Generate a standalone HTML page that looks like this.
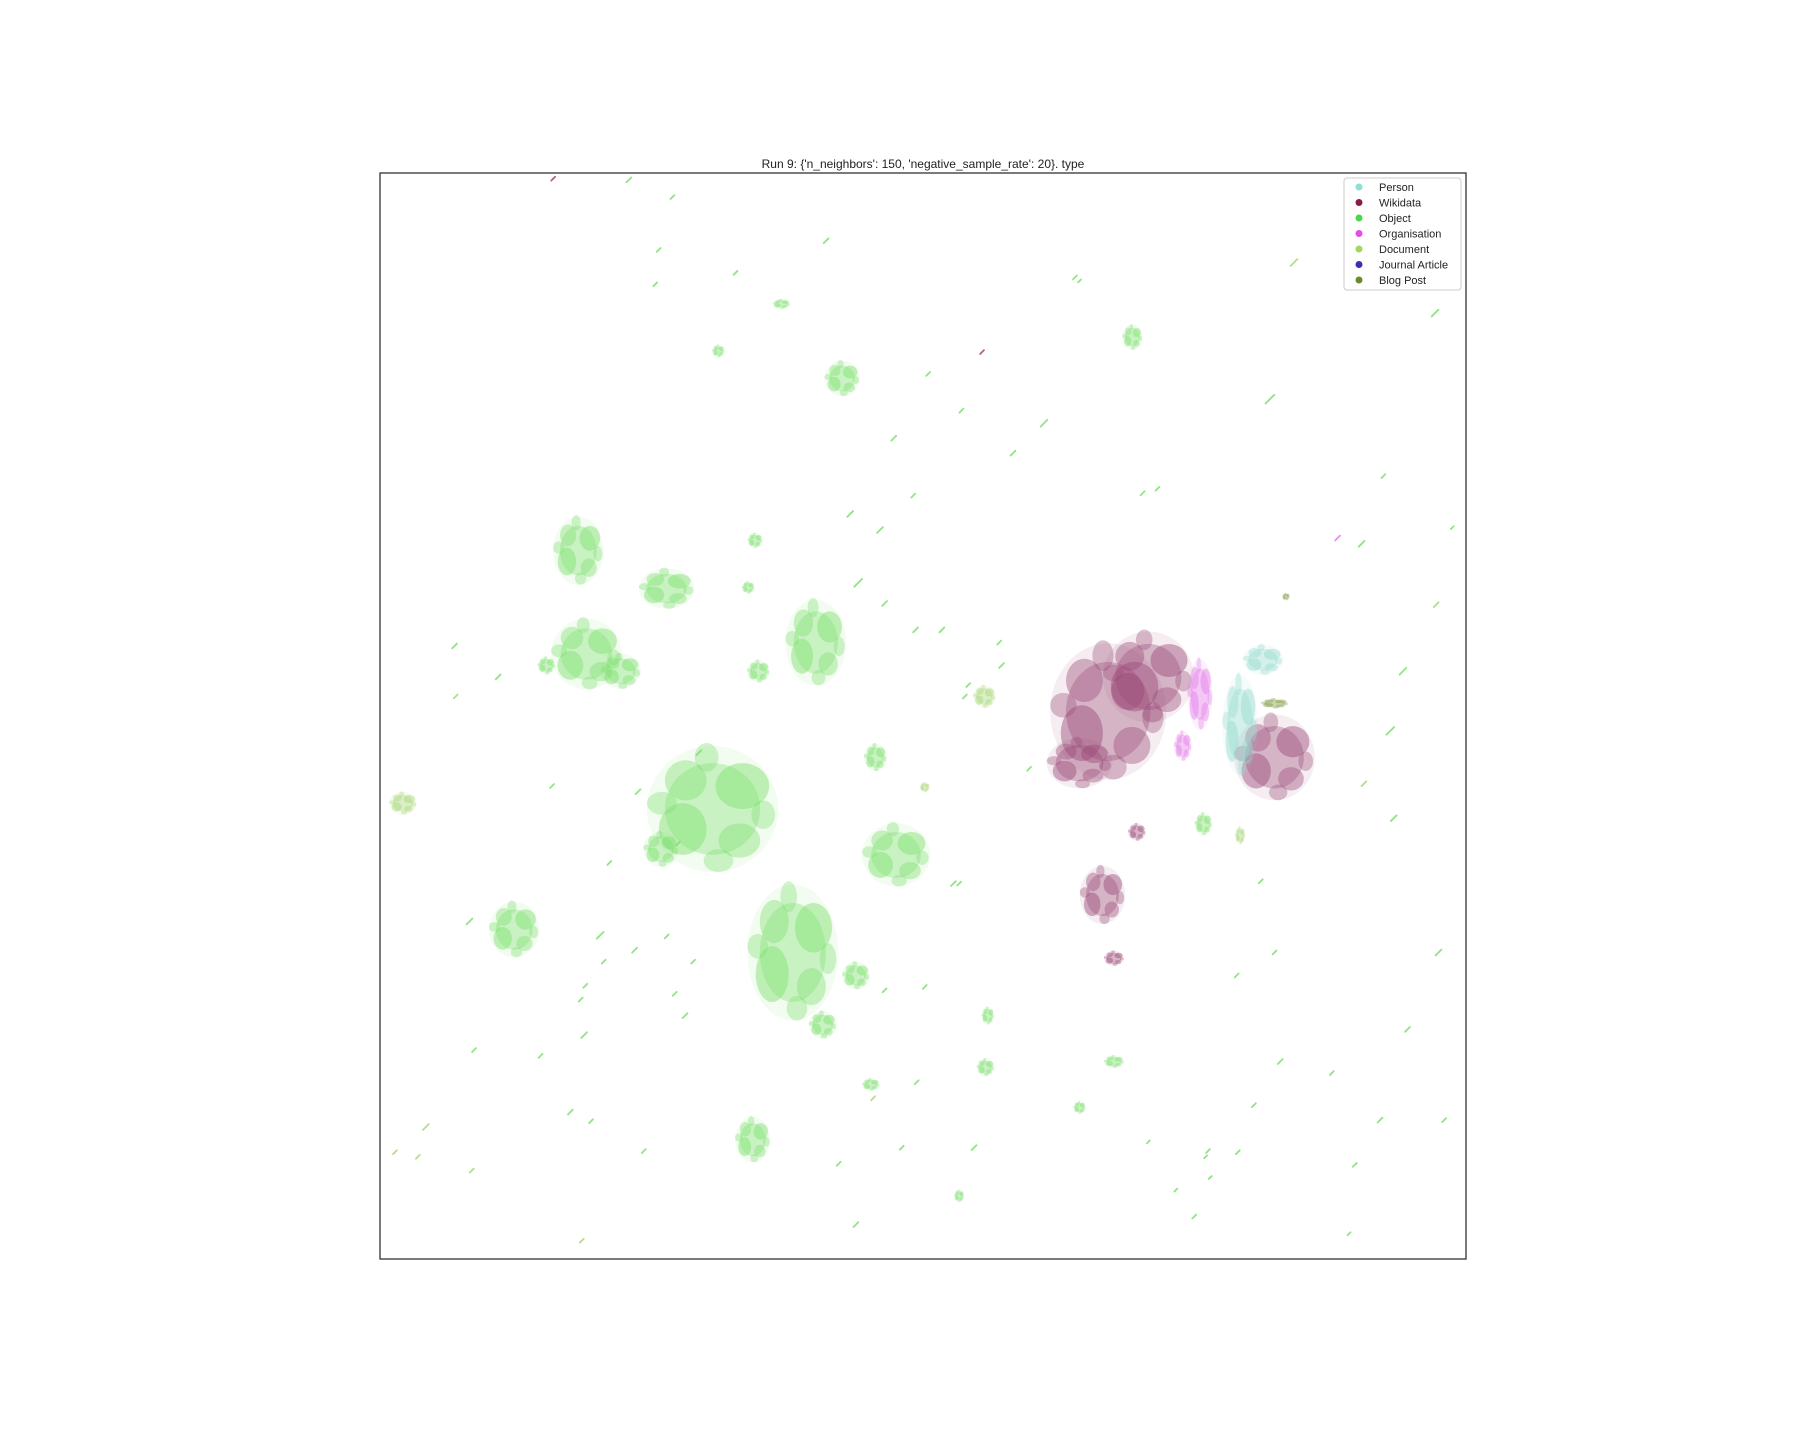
<!DOCTYPE html>
<html><head><meta charset="utf-8"><style>
html,body{margin:0;padding:0;background:#fff;}
svg{display:block;font-family:"Liberation Sans","DejaVu Sans",sans-serif;}
</style></head><body>
<svg id="chart" width="1800" height="1440" viewBox="0 0 1800 1440">
<text x="923" y="168" text-anchor="middle" font-size="12" fill="#222">Run 9: {'n_neighbors': 150, 'negative_sample_rate': 20}. type</text>
<g id="marks"></g>
<rect x="380" y="173" width="1086" height="1086" fill="none" stroke="#222" stroke-width="1.2"/>
<g id="legend"></g>
</svg>
<script>
// category names and colors
const categories = ["Person","Wikidata","Object","Organisation","Document","Journal Article","Blog Post"];
const legendColors = ["#8ee0d4","#8b1a4a","#4ad84a","#e84ae8","#9ed860","#3a2fb0","#6b8a2a"];
const markColors = ["#97dccf","#9b4a77","#7ddf6f","#e57be8","#a8d878","#5a4fc0","#7f9a40"];
// clusters: centre x, centre y (embedding units), radius x, radius y, category index
const clusterX = [503,510,580,475,540,710,660,620,575,690,780,745,716,733,447,655,762,986,625,651,657,758,858,940,970,860,1048,965,940,1000,1110,960,990,970,1045,1030,1080,1100,350,857,1110,1080,680,835,805,1120];
const clusterY = [480,570,513,580,585,560,585,705,740,830,745,850,893,330,810,993,660,294,306,512,471,945,930,965,925,885,718,620,665,590,660,780,725,835,605,650,632,575,700,607,613,728,265,1042,686,520];
const clusterRX = [20,28,22,7,16,24,9,52,14,36,27,11,11,14,20,14,9,8,5,5,6,7,7,5,8,5,7,46,26,36,32,18,7,8,10,7,14,16,11,9,11,4,7,4,4,3];
const clusterRY = [27,28,16,7,14,34,9,50,14,54,25,11,11,14,22,18,11,10,5,5,6,5,7,5,5,7,9,54,20,36,34,23,7,6,28,12,40,12,9,9,4,7,4,5,4,3];
const clusterCat = [2,2,2,2,2,2,2,2,2,2,2,2,2,2,2,2,2,2,2,2,2,2,2,2,2,2,2,1,1,1,1,1,1,1,3,3,0,0,4,4,6,4,2,2,4,6];
// small streak marks: x, y, length, category
const streakX = [481,547,585,573,570,640,719,808,837,855,882,909,936,778,795,766,740,747,770,820,797,843,872,1008,1106,1127,1250,1165,1205,1186,1251,1222,1211,1265,1214,1188,1253,1226,1258,1202,1180,1115,1110,1098,1052,1054,1078,1024,1040,1077,1092,1050,395,396,433,408,522,412,508,496,470,480,555,580,552,525,509,505,560,603,587,590,608,730,770,785,798,805,830,835,848,870,840,896,940,995,1000,745,760,1160,1175,363,370,343,410,506,514,596,530];
const streakY = [156,157,172,218,248,238,210,326,358,307,395,369,242,382,432,462,448,508,526,549,549,597,580,426,348,229,273,469,415,474,527,585,637,460,713,683,830,897,976,976,1015,925,830,768,1003,1026,1004,1037,1060,850,963,1008,563,607,590,803,815,915,902,969,920,685,690,816,828,838,859,871,1003,838,866,735,656,1014,863,1000,943,860,770,770,1000,560,607,670,245,430,995,1067,957,935,1075,1008,982,1004,1020,1081,977,885,752];
const streakL = [4,5,4,4,4,4,5,4,4,4,5,7,4,5,4,6,6,8,5,5,5,4,5,4,9,7,7,5,4,6,5,7,8,3,6,5,6,5,4,5,4,5,4,4,4,3,4,3,4,4,4,3,5,4,5,6,7,4,6,5,4,4,5,4,5,4,4,4,4,4,4,4,5,4,4,4,4,4,5,4,5,4,4,4,3,4,3,5,4,4,3,4,6,4,4,4,4,5,4,4];
const streakCat = [1,2,2,2,2,2,2,2,2,1,2,2,2,2,2,2,2,2,2,2,2,2,2,2,2,4,2,3,2,2,4,2,2,2,2,4,2,2,2,2,2,2,2,2,2,2,2,2,2,2,2,2,2,4,2,2,2,2,2,2,2,2,2,2,2,2,2,2,2,2,2,2,2,2,2,2,2,2,2,2,2,2,2,2,2,2,2,2,4,2,2,4,4,4,4,4,2,2,2,2];

const X0=330,X1=1277,Y0=151,Y1=1097;
function xScale(v){return 380+(v-X0)/(X1-X0)*1086;}
function yScale(v){return 173+(v-Y0)/(Y1-Y0)*1086;}
function rScale(v){return v*1086/(X1-X0);}
const NS="http://www.w3.org/2000/svg";
const g=document.getElementById('marks');
// fixed sub-blob pattern to give clusters a ragged look
const sub=[[0,0,0.8,0.8,0.35],[0.5,-0.4,0.45,0.4,0.45],[-0.5,0.35,0.4,0.45,0.45],[0.45,0.55,0.35,0.3,0.4],[-0.45,-0.5,0.35,0.35,0.4],[0.85,0.1,0.2,0.25,0.35],[-0.85,-0.1,0.25,0.2,0.35],[0.1,0.9,0.25,0.2,0.35],[-0.1,-0.9,0.2,0.25,0.35],[0,0,1.1,1.1,0.1]];
for(let i=0;i<clusterX.length;i++){
  const cx=xScale(clusterX[i]),cy=yScale(clusterY[i]);
  const rx=rScale(clusterRX[i]),ry=rScale(clusterRY[i]);
  const grp=document.createElementNS(NS,'g');
  
  
  for(const s of sub){
    const e=document.createElementNS(NS,'ellipse');
    e.setAttribute('cx',cx+s[0]*rx);e.setAttribute('cy',cy+s[1]*ry);
    e.setAttribute('rx',rx*s[2]);e.setAttribute('ry',ry*s[3]);
    e.setAttribute('fill',markColors[clusterCat[i]]);e.setAttribute('fill-opacity',s[4]);
    
    
    grp.appendChild(e);
  }
  g.appendChild(grp);
}
for(let i=0;i<streakX.length;i++){
  const cx=xScale(streakX[i]),cy=yScale(streakY[i]),l=rScale(streakL[i])*0.6;
  const ln=document.createElementNS(NS,'line');
  ln.setAttribute('x1',cx-l*0.7);ln.setAttribute('y1',cy+l*0.7);
  ln.setAttribute('x2',cx+l*0.7);ln.setAttribute('y2',cy-l*0.7);
  ln.setAttribute('stroke',markColors[streakCat[i]]);ln.setAttribute('stroke-width',1.8);
  ln.setAttribute('stroke-opacity',0.85);
  ln.setAttribute('stroke-linecap','round');
  
  
  g.appendChild(ln);
}
// legend
const lg=document.getElementById('legend');
const box=document.createElementNS(NS,'rect');
box.setAttribute('x',1344);box.setAttribute('y',178);box.setAttribute('width',117);box.setAttribute('height',112);
box.setAttribute('rx',3);box.setAttribute('fill','#fff');box.setAttribute('fill-opacity','0.8');box.setAttribute('stroke','#ccc');


lg.appendChild(box);
for(let i=0;i<categories.length;i++){
  const y=187+i*15.5;
  const c=document.createElementNS(NS,'circle');
  c.setAttribute('cx',1359);c.setAttribute('cy',y);c.setAttribute('r',3.5);c.setAttribute('fill',legendColors[i]);
  
  
  lg.appendChild(c);
  const t=document.createElementNS(NS,'text');
  t.setAttribute('x',1379);t.setAttribute('y',y+4);t.setAttribute('font-size','11');t.setAttribute('fill','#222');
  t.textContent=categories[i];
  
  
  lg.appendChild(t);
}
</script>
</body></html>
